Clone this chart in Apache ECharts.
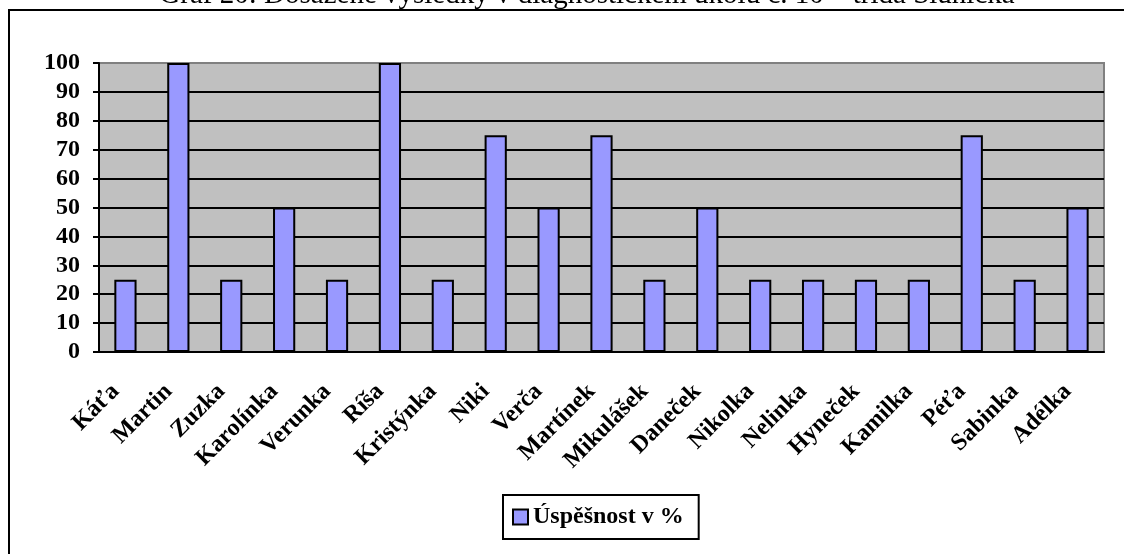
<!DOCTYPE html>
<html>
<head>
<meta charset="utf-8">
<script src="https://cdn.jsdelivr.net/npm/echarts@6/dist/echarts.min.js"></script>
<style>
  html, body { margin: 0; padding: 0; background: #fff; }
  #myChart { width: 1124px; height: 554px; }
</style>
</head>
<body>
<div id="myChart"></div>
<script>
const title = 'Graf 20: Dosažené výsledky v diagnostickém úkolu č. 10 – třída Sluníčka'
const seriesName = 'Úspěšnost v %'
const dataX = ['Káťa', 'Martin', 'Zuzka', 'Karolínka', 'Verunka', 'Ríša', 'Kristýnka', 'Niki', 'Verča', 'Martínek',
  'Mikulášek', 'Daneček', 'Nikolka', 'Nelinka', 'Hyneček', 'Kamilka', 'Péťa', 'Sabinka', 'Adélka']
const data1 = [25, 100, 25, 50, 25, 100, 25, 75, 50, 75, 25, 50, 25, 25, 25, 25, 75, 25, 50]

const font = 'Liberation Serif'
const myChart = echarts.init(document.getElementById('myChart'))

myChart.setOption({
  animation: false,
  backgroundColor: '#fff',
  graphic: [
    // outer frame, runs off the right and bottom edge
    {
      type: 'rect',
      z: -10,
      shape: { x: 9, y: 10, width: 1300, height: 700 },
      style: { fill: 'none', stroke: '#000', lineWidth: 2 }
    },
    {
      type: 'text',
      style: {
        x: 587,
        y: 10,
        text: title,
        fill: '#000',
        font: '29px "Liberation Serif"',
        align: 'center',
        verticalAlign: 'bottom'
      }
    }
  ],
  grid: {
    left: 99,
    top: 63,
    right: 20,
    bottom: 202,
    show: true,
    backgroundColor: '#C0C0C0',
    borderColor: '#808080',
    borderWidth: 2
  },
  legend: {
    left: 503,
    top: 495,
    padding: [10, 15, 10, 9],
    borderColor: '#000',
    borderWidth: 2,
    itemWidth: 15,
    itemHeight: 15,
    itemGap: 8,
    icon: 'rect',
    textStyle: {
      fontFamily: font,
      fontWeight: 'bold',
      fontSize: 24,
      color: '#000'
    }
  },
  xAxis: {
    type: 'category',
    data: dataX,
    boundaryGap: true,
    axisLine: { lineStyle: { color: '#000', width: 2 } },
    axisTick: { length: 6, lineStyle: { color: '#000', width: 2 } },
    axisLabel: {
      interval: 0,
      rotate: 45,
      margin: 26,
      padding: [0, 14, 0, 0],
      color: '#000',
      fontFamily: font,
      fontWeight: 'bold',
      fontSize: 24
    }
  },
  yAxis: {
    type: 'value',
    min: 0,
    max: 100,
    interval: 10,
    axisLine: { show: true, lineStyle: { color: '#000', width: 2 } },
    axisTick: { show: true, length: 6, lineStyle: { color: '#000', width: 2 } },
    axisLabel: {
      margin: 19,
      color: '#000',
      fontFamily: font,
      fontWeight: 'bold',
      fontSize: 24
    },
    splitLine: {
      showMaxLine: false,
      lineStyle: { color: '#000', width: 2 }
    }
  },
  series: [
    {
      name: seriesName,
      type: 'bar',
      data: data1,
      barWidth: '42%',
      itemStyle: {
        color: '#9999FF',
        borderColor: '#000',
        borderWidth: 2
      }
    }
  ]
})
</script>
</body>
</html>
